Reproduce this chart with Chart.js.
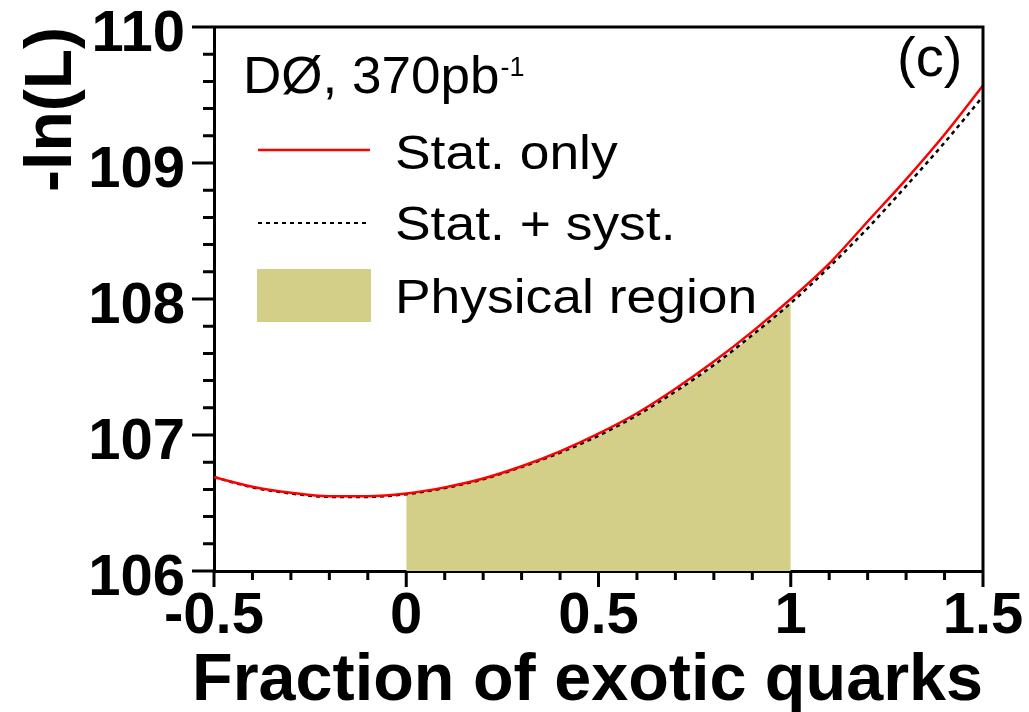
<!DOCTYPE html>
<html lang="en">
<head>
    <meta charset="UTF-8">
    <title>-ln(L) vs fraction of exotic quarks</title>
    <style>
        body {
            margin: 0;
            background: #fff;
        }
        #wrap {
            width: 1029px;
            height: 712px;
            position: relative;
        }
    </style>
    <script src="https://cdn.jsdelivr.net/npm/chart.js"></script>
</head>
<body>

<div id="wrap"><canvas id="nllChart"></canvas></div>

<script>
    // values
    const fractions = [-0.5, -0.4, -0.3, -0.2, -0.1, 0, 0.1, 0.2, 0.3, 0.4, 0.5,
                       0.6, 0.7, 0.8, 0.9, 1.0, 1.1, 1.2, 1.3, 1.4, 1.5];
    const statOnly = [106.69, 106.62, 106.575, 106.55, 106.55, 106.57, 106.615, 106.68, 106.77, 106.88, 107.01,
                      107.16, 107.34, 107.54, 107.76, 108.00, 108.26, 108.57, 108.88, 109.21, 109.57];
    const statSyst = [106.69, 106.615, 106.57, 106.545, 106.545, 106.565, 106.61, 106.675, 106.765, 106.87, 106.995,
                      107.145, 107.32, 107.515, 107.735, 107.97, 108.235, 108.52, 108.83, 109.15, 109.49];
    // physical region: 0 <= f <= 1, filled up to the curve
    const physFractions = [0, 0.1, 0.2, 0.3, 0.4, 0.5, 0.6, 0.7, 0.8, 0.9, 1.0];
    const physNll = [106.565, 106.61, 106.675, 106.765, 106.87, 106.995, 107.145, 107.32, 107.515, 107.735, 107.97];

    const seriesLabels = ["Stat. only", "Stat. + syst.", "Physical region"];
    const xTitle = "Fraction of exotic quarks";
    const yTitle = "-ln(L)";
    const xRange = [-0.5, 1.5];
    const yRange = [106, 110];

    const toPoints = (xs, ys) => xs.map((x, i) => ({ x: x, y: ys[i] }));

    const isMultiple = (v, step) => Math.abs(v / step - Math.round(v / step)) < 1e-6;

    // draw text a bit wider than the font, like the original
    function wideText(ctx, text, x, y, sx) {
        ctx.save();
        ctx.translate(x, y);
        ctx.scale(sx, 1);
        ctx.fillText(text, 0, 0);
        const w = ctx.measureText(text).width * sx;
        ctx.restore();
        return w;
    }

    // frame, minor/major ticks, x title and the text inside the plot
    const decorPlugin = {
        id: 'decor',
        afterDraw(chart) {
            const ctx = chart.ctx;
            const a = chart.chartArea;
            const xs = chart.scales.x;
            const ys = chart.scales.y;
            ctx.save();
            ctx.strokeStyle = '#000';
            ctx.lineWidth = 3;

            // top + right frame
            ctx.beginPath();
            ctx.moveTo(a.left, a.top);
            ctx.lineTo(a.right, a.top);
            ctx.lineTo(a.right, a.bottom);
            ctx.stroke();

            // ticks
            ctx.beginPath();
            xs.ticks.forEach(t => {
                const px = xs.getPixelForValue(t.value);
                const len = isMultiple(t.value, 0.5) ? 16 : 9;
                ctx.moveTo(px, a.bottom);
                ctx.lineTo(px, a.bottom + len);
            });
            ys.ticks.forEach(t => {
                const py = ys.getPixelForValue(t.value);
                const len = isMultiple(t.value, 1) ? 22 : 11;
                ctx.moveTo(a.left, py);
                ctx.lineTo(a.left - len, py);
            });
            ctx.stroke();

            ctx.fillStyle = '#000';
            ctx.textBaseline = 'alphabetic';
            ctx.textAlign = 'left';

            // x axis title, stretched to end at the right edge
            ctx.font = "bold 66px 'Liberation Sans', Arial, sans-serif";
            const tw = ctx.measureText(xTitle).width;
            const sx = (a.right - 192) / tw;
            wideText(ctx, xTitle, 192, 700, sx);

            // experiment label
            ctx.font = "52px 'Liberation Sans', Arial, sans-serif";
            const w = wideText(ctx, "DØ, 370pb", 243, 93, 1.02);
            ctx.font = "27px 'Liberation Sans', Arial, sans-serif";
            ctx.fillText("-1", 243 + w + 1, 76);

            ctx.font = "56px 'Liberation Sans', Arial, sans-serif";
            ctx.fillText("(c)", 897, 76);

            // legend
            const ds = chart.data.datasets;
            ctx.font = "49px 'Liberation Sans', Arial, sans-serif";

            ctx.strokeStyle = ds[0].borderColor;
            ctx.lineWidth = ds[0].borderWidth;
            ctx.beginPath();
            ctx.moveTo(258, 150);
            ctx.lineTo(370, 150);
            ctx.stroke();
            wideText(ctx, ds[0].label, 395, 169, 1.09);

            ctx.strokeStyle = ds[1].borderColor;
            ctx.lineWidth = 2;
            ctx.setLineDash([4, 4]);
            ctx.beginPath();
            ctx.moveTo(258, 223);
            ctx.lineTo(370, 223);
            ctx.stroke();
            ctx.setLineDash([]);
            wideText(ctx, ds[1].label, 395, 240, 1.09);

            ctx.fillStyle = ds[2].backgroundColor;
            ctx.fillRect(257, 269, 114, 53);
            ctx.fillStyle = '#000';
            wideText(ctx, ds[2].label, 395, 313, 1.09);

            ctx.restore();
        }
    };

    const ctx = document.getElementById('nllChart').getContext('2d');
    new Chart(ctx, {
        type: 'line',
        data: {
            datasets: [
                {
                    label: seriesLabels[0],
                    data: toPoints(fractions, statOnly),
                    borderColor: '#ff0000',
                    borderWidth: 2.5,
                    pointRadius: 0,
                    cubicInterpolationMode: 'monotone',
                    fill: false
                },
                {
                    label: seriesLabels[1],
                    data: toPoints(fractions, statSyst),
                    borderColor: '#000000',
                    borderWidth: 2.5,
                    borderDash: [4, 4],
                    pointRadius: 0,
                    cubicInterpolationMode: 'monotone',
                    fill: false
                },
                {
                    label: seriesLabels[2],
                    data: toPoints(physFractions, physNll),
                    borderWidth: 0,
                    borderColor: 'rgba(0,0,0,0)',
                    backgroundColor: '#d3cf88',
                    pointRadius: 0,
                    cubicInterpolationMode: 'monotone',
                    fill: 'start'
                }
            ]
        },
        options: {
            responsive: true,
            maintainAspectRatio: false,
            devicePixelRatio: 1,
            animation: false,
            layout: {
                padding: { left: 0, top: 27, right: 46, bottom: 0 }
            },
            plugins: {
                legend: { display: false },
                tooltip: { enabled: false }
            },
            scales: {
                x: {
                    type: 'linear',
                    min: xRange[0],
                    max: xRange[1],
                    border: { display: true, width: 3, color: '#000' },
                    grid: { drawOnChartArea: false, drawTicks: false },
                    ticks: {
                        stepSize: 0.1,
                        autoSkip: false,
                        maxRotation: 0,
                        minRotation: 0,
                        padding: 11,
                        color: '#000',
                        font: { family: "'Liberation Sans', Arial, sans-serif", size: 58, weight: 'bold' },
                        callback: v => isMultiple(v, 0.5) ? String(Math.round(v * 10) / 10) : ''
                    },
                    title: { display: false },
                    afterFit: s => {
                        s.height = 141;
                        s.paddingLeft = 0;
                        s.paddingRight = 0;
                    }
                },
                y: {
                    min: yRange[0],
                    max: yRange[1],
                    border: { display: true, width: 3, color: '#000' },
                    grid: { drawOnChartArea: false, drawTicks: false },
                    ticks: {
                        stepSize: 0.2,
                        autoSkip: false,
                        padding: 29,
                        labelOffset: 8,
                        color: '#000',
                        font: { family: "'Liberation Sans', Arial, sans-serif", size: 58, weight: 'bold' },
                        callback: v => isMultiple(v, 1) ? String(Math.round(v)) : ''
                    },
                    title: {
                        display: true,
                        text: yTitle,
                        align: 'end',
                        color: '#000',
                        padding: { top: 13, bottom: 0 },
                        font: { family: "'Liberation Sans', Arial, sans-serif", size: 66, weight: 'bold' }
                    },
                    afterFit: s => {
                        s.width = 214;
                        s.paddingTop = 0;
                        s.paddingBottom = 0;
                    }
                }
            }
        },
        plugins: [decorPlugin]
    });
</script>

</body>
</html>
